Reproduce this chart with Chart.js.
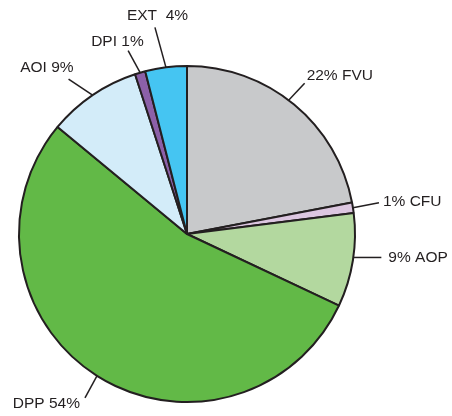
<!DOCTYPE html>
<html>
<head>
<meta charset="utf-8">
<script src="https://cdn.jsdelivr.net/npm/chart.js@4.4.0/dist/chart.umd.min.js"></script>
<style>
    html, body { margin: 0; padding: 0; background: #ffffff; }
    #wrap { width: 452px; height: 416px; }
</style>
</head>
<body>
<div id="wrap"><canvas id="pie" width="452" height="416"></canvas></div>
<script>
// Share of items by category (percent), clockwise from 12 o'clock
const categories = ['FVU', 'CFU', 'AOP', 'DPP', 'AOI', 'DPI', 'EXT'];
const shares = [22, 1, 9, 54, 9, 1, 4];
const sliceColors = ['#c8c9cb', '#dcc6e0', '#b3d89f', '#62b947', '#d3ecf9', '#8c60a8', '#45c5f2'];

// Leader line / label placement for each slice
// at: where on the slice arc the line starts (0..1), line: leader vector,
// text: offset of text from the line end, align: text alignment
const labelLayout = [
    { at: 0.47, line: [16, -17], text: [2, -8],  align: 'left',  valueFirst: true },
    { at: 0.5,  line: [26, -5],  text: [4, -1],  align: 'left',  valueFirst: true },
    { at: 0.47, line: [28, 0],   text: [7, 0],   align: 'left',  valueFirst: true },
    { at: 0.5,  line: [-12, 22], text: [-5, 6],  align: 'right', valueFirst: false },
    { at: 0.5,  line: [-24, -16], text: [5, -11], align: 'right', valueFirst: false },
    { at: 0.5,  line: [-12, -22], text: [-37, -9], align: 'left', valueFirst: false },
    { at: 0.5,  line: [-11, -40], text: [-28, -12], align: 'left', valueFirst: false, sep: '  ' }
];

const inkColor = '#231f20';

const leaderLabels = {
    id: 'leaderLabels',
    afterDatasetsDraw(chart) {
        const ctx = chart.ctx;
        const meta = chart.getDatasetMeta(0);
        ctx.save();
        ctx.strokeStyle = inkColor;
        ctx.fillStyle = inkColor;
        ctx.lineWidth = 1.5;
        ctx.font = '15.5px "Liberation Sans", Arial, sans-serif';
        ctx.textBaseline = 'middle';
        meta.data.forEach((arc, i) => {
            const p = arc.getProps(['x', 'y', 'startAngle', 'endAngle', 'outerRadius'], true);
            const lay = labelLayout[i];
            const a = p.startAngle + lay.at * (p.endAngle - p.startAngle);
            const sx = p.x + Math.cos(a) * p.outerRadius;
            const sy = p.y + Math.sin(a) * p.outerRadius;
            const ex = sx + lay.line[0];
            const ey = sy + lay.line[1];
            ctx.beginPath();
            ctx.moveTo(sx, sy);
            ctx.lineTo(ex, ey);
            ctx.stroke();

            const sep = lay.sep || ' ';
            const pct = shares[i] + '%';
            const txt = lay.valueFirst ? pct + sep + categories[i] : categories[i] + sep + pct;
            ctx.textAlign = lay.align;
            ctx.fillText(txt, ex + lay.text[0], ey + lay.text[1]);
        });
        ctx.restore();
    }
};

new Chart(document.getElementById('pie'), {
    type: 'pie',
    data: {
        labels: categories,
        datasets: [{
            data: shares,
            backgroundColor: sliceColors,
            borderColor: inkColor,
            borderWidth: 2
        }]
    },
    options: {
        responsive: false,
        animation: false,
        devicePixelRatio: 1,
        layout: {
            padding: { top: 65, bottom: 13, left: 18, right: 96 }
        },
        plugins: {
            legend: { display: false },
            tooltip: { enabled: false }
        }
    },
    plugins: [leaderLabels]
});
</script>
</body>
</html>
